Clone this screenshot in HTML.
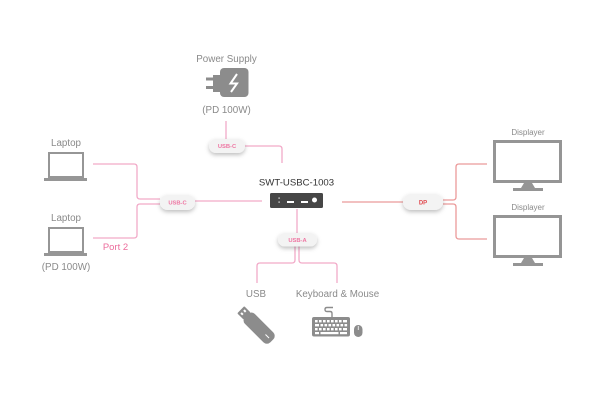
<!DOCTYPE html>
<html><head><meta charset="utf-8"><style>
html,body{margin:0;padding:0;background:#fff;}
svg{display:block;}
text{font-family:"Liberation Sans",sans-serif;}
</style></head><body>
<svg width="600" height="410" viewBox="0 0 600 410" xmlns="http://www.w3.org/2000/svg">
<defs>
<filter id="sh" x="-40%" y="-60%" width="180%" height="240%">
<feDropShadow dx="0" dy="2" stdDeviation="2" flood-color="#000" flood-opacity="0.25"/>
</filter>
</defs>
<rect width="600" height="410" fill="#fff"/>

<!-- connectors pink -->
<g fill="none" stroke="#f2aac8" stroke-width="1.3">
<path d="M226 121 V139"/>
<path d="M245 146 H279 Q282 146 282 149 V163"/>
<path d="M93 164 H134 Q137 164 137 167 V196 Q137 199 140 199 H160"/>
<path d="M93 238 H134 Q137 238 137 235 V207 Q137 204 140 204 H160"/>
<path d="M195 201 H262"/>
<path d="M297 209 V233"/>
<path d="M295 246 V260 Q295 263 292 263 H260 Q257 263 257 266 V283"/>
<path d="M299 246 V260 Q299 263 302 263 H334 Q337 263 337 266 V283"/>
</g>
<!-- DP connectors -->
<g fill="none" stroke="#eb9a9a" stroke-width="1.3">
<path d="M342 202 H404"/>
<path d="M443 200 H453 Q456 200 456 197 V167 Q456 164 459 164 H487"/>
<path d="M443 204 H453 Q456 204 456 207 V236 Q456 239 459 239 H487"/>
</g>

<!-- pills -->
<g filter="url(#sh)" fill="#f3f3f3">
<rect x="209" y="139" width="36" height="14" rx="7"/>
<rect x="160" y="195" width="35" height="15" rx="7.5"/>
<rect x="278" y="233" width="39" height="13.5" rx="6.75"/>
<rect x="403" y="194" width="40" height="16" rx="8"/>
</g>
<g font-size="5.8" font-weight="bold" text-anchor="middle" fill="#ee77a3">
<text x="227" y="148">USB-C</text>
<text x="177.5" y="204.5">USB-C</text>
<text x="297.5" y="241.8">USB-A</text>
</g>
<text x="423" y="204.5" font-size="6" font-weight="bold" text-anchor="middle" fill="#e04b50">DP</text>

<!-- labels -->
<g fill="#8a8a8a" font-size="9.8" text-anchor="middle">
<text x="226.5" y="62">Power Supply</text>
<text x="226.5" y="113">(PD 100W)</text>
<text x="66" y="146">Laptop</text>
<text x="66" y="221">Laptop</text>
<text x="66" y="270">(PD 100W)</text>
<text x="256" y="297">USB</text>
<text x="337.5" y="297">Keyboard &amp; Mouse</text>
</g>
<g fill="#8a8a8a" font-size="8" text-anchor="middle">
<text x="528" y="135">Displayer</text>
<text x="528" y="210">Displayer</text>
</g>
<text x="115.5" y="250" font-size="9.5" text-anchor="middle" fill="#ec6d9c">Port 2</text>
<text x="296.5" y="185.5" font-size="9.6" text-anchor="middle" fill="#333">SWT-USBC-1003</text>

<!-- device -->
<rect x="270" y="193" width="53" height="15" rx="1.5" fill="#464646"/>
<g fill="#fff">
<rect x="278.5" y="197.5" width="1.2" height="1.2"/>
<rect x="278.5" y="201.5" width="1.2" height="1.2"/>
<rect x="287" y="201" width="7" height="2"/>
<rect x="301" y="201" width="7" height="2"/>
<circle cx="314.5" cy="200" r="2.5"/>
</g>

<!-- power supply icon -->
<g fill="#8c8c8c">
<rect x="220" y="68" width="28.5" height="29" rx="4"/>
<rect x="213" y="75" width="7" height="17"/>
<rect x="206" y="77.5" width="8" height="3"/>
<rect x="206" y="86" width="8" height="3"/>
</g>
<polyline points="237,74 230.5,83.5 237,83.5 231,92" fill="none" stroke="#fff" stroke-width="2" stroke-linejoin="miter"/>

<!-- laptops -->
<g fill="none" stroke="#969696" stroke-width="2">
<rect x="49" y="153" width="34" height="24"/>
<rect x="49" y="228" width="34" height="24"/>
</g>
<g fill="#969696">
<rect x="44" y="178" width="43" height="3"/>
<rect x="44" y="253" width="43" height="3"/>
</g>

<!-- monitors -->
<g fill="none" stroke="#959595" stroke-width="3">
<rect x="494.5" y="141.5" width="66" height="40"/>
<rect x="494.5" y="216.5" width="66" height="40"/>
</g>
<g fill="#959595">
<path d="M524 183 H532 L535 188 H521 Z"/>
<rect x="513" y="188" width="30" height="3"/>
<path d="M524 258 H532 L535 263 H521 Z"/>
<rect x="513" y="263" width="30" height="3"/>
</g>

<!-- USB stick -->
<g transform="translate(257 326) rotate(45)" fill="#8c8c8c">
<rect x="-15" y="-7" width="36" height="14" rx="5"/>
<rect x="-23" y="-5" width="9" height="10" rx="1"/>
<rect x="-20.5" y="-3" width="2.5" height="2" fill="#fff"/>
<rect x="-20.5" y="1" width="2.5" height="2" fill="#fff"/>
<rect x="12" y="-0.5" width="5" height="1" fill="#fff"/>
</g>

<!-- keyboard -->
<path d="M332 317 V313.5 Q332 311.5 330 311.5 H327 Q325 311.5 325 309.5 Q325 307.5 327 307.5 H333" fill="none" stroke="#8c8c8c" stroke-width="1.4"/>
<rect x="312" y="317" width="38" height="19.5" rx="2" fill="#8c8c8c"/>
<g fill="#fff">
<rect x="315" y="320" width="2.6" height="2.4"/><rect x="319" y="320" width="2.6" height="2.4"/><rect x="323" y="320" width="2.6" height="2.4"/><rect x="327" y="320" width="2.6" height="2.4"/><rect x="331" y="320" width="2.6" height="2.4"/><rect x="335" y="320" width="2.6" height="2.4"/><rect x="339" y="320" width="2.6" height="2.4"/><rect x="343" y="320" width="4" height="2.4"/>
<rect x="315" y="324" width="4" height="2.4"/><rect x="320.5" y="324" width="2.6" height="2.4"/><rect x="324.5" y="324" width="2.6" height="2.4"/><rect x="328.5" y="324" width="2.6" height="2.4"/><rect x="332.5" y="324" width="2.6" height="2.4"/><rect x="336.5" y="324" width="2.6" height="2.4"/><rect x="340.5" y="324" width="2.6" height="2.4"/><rect x="344.5" y="324" width="2.6" height="2.4"/>
<rect x="315" y="328" width="2.6" height="2.4"/><rect x="319" y="328" width="2.6" height="2.4"/><rect x="323" y="328" width="2.6" height="2.4"/><rect x="327" y="328" width="2.6" height="2.4"/><rect x="331" y="328" width="2.6" height="2.4"/><rect x="335" y="328" width="2.6" height="2.4"/><rect x="339" y="328" width="2.6" height="2.4"/><rect x="343" y="328" width="4" height="2.4"/>
<rect x="315" y="332" width="4" height="2.2"/><rect x="320.5" y="332" width="18" height="2.2"/><rect x="340" y="332" width="7" height="2.2"/>
</g>
<rect x="354" y="325" width="8.5" height="12" rx="4.2" fill="#8c8c8c"/>
<line x1="358.25" y1="326" x2="358.25" y2="330" stroke="#fff" stroke-width="0.8"/>
</svg>
</body></html>
